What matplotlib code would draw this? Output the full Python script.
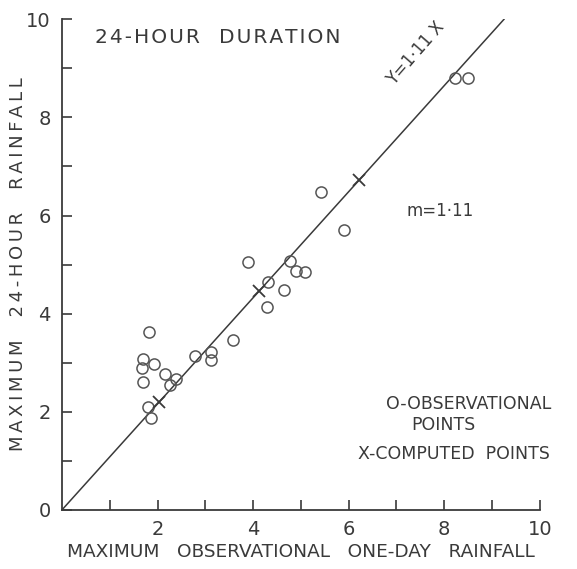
import numpy as np
import matplotlib.pyplot as plt

# observational points
obs_x = [1.82, 3.58, 1.69, 1.68, 1.92, 1.70, 2.15, 2.79, 3.11, 3.12, 2.38, 2.25, 1.79, 1.87,
         3.90, 4.78, 4.89, 5.09, 4.31, 4.64, 4.28, 5.43, 5.91, 8.22, 8.50]
obs_y = [3.63, 3.46, 3.07, 2.90, 2.98, 2.61, 2.76, 3.14, 3.21, 3.05, 2.66, 2.55, 2.09, 1.88,
         5.05, 5.07, 4.86, 4.85, 4.64, 4.49, 4.13, 6.49, 5.71, 8.80, 8.80]

# computed points (they lie on the drawn line)
comp_x = [2.04, 4.13, 6.22]
comp_y = [2.20, 4.46, 6.72]

# drawn line runs from the origin to the top of the frame
line_x = [0, 9.25]
line_y = [0, 10.0]

x_ticks = [2, 4, 6, 8, 10]
y_ticks = [0, 2, 4, 6, 8, 10]

ink = '#3a3a3a'
plt.rcParams['font.family'] = 'DejaVu Sans'


def spaced(s, gap='\u2009'):
    # the lettering on the original is widely spaced
    return gap.join(s)


fig = plt.figure(figsize=(5.77, 5.69), dpi=100)
ax = fig.add_axes([0.1075, 0.104, 0.828, 0.862])

ax.plot(line_x, line_y, color=ink, lw=1.1)

ax.plot(obs_x, obs_y, 'o', ms=8, mfc='none', mec='#555555', mew=1.1)
ax.plot(comp_x, comp_y, 'x', ms=8, color=ink, mew=1.3)

ax.set_xlim(0, 10)
ax.set_ylim(0, 10)
for s in ['top', 'right']:
    ax.spines[s].set_visible(False)
for s in ['left', 'bottom']:
    ax.spines[s].set_color(ink)
    ax.spines[s].set_linewidth(1.3)

ax.set_xticks(x_ticks)
ax.set_yticks(y_ticks)
ax.set_xticks([1, 3, 5, 7, 9], minor=True)
ax.set_yticks([1, 3, 5, 7, 9], minor=True)
ax.tick_params(which='both', direction='in', length=7, width=1.2, color=ink,
               labelcolor=ink, labelsize=14)
ax.tick_params(axis='x', pad=7)
ax.tick_params(axis='y', pad=8)

ax.set_xlabel('MAXIMUM   OBSERVATIONAL   ONE-DAY   RAINFALL', fontsize=13.3,
              color=ink, labelpad=3)
ax.set_ylabel(spaced('MAXIMUM') + '    ' + spaced('24-HOUR') + '    ' + spaced('RAINFALL'),
              fontsize=13, color=ink)
ax.yaxis.set_label_coords(-0.074, 0.50)

ax.text(0.70, 9.62, spaced('24-HOUR', '\u200a') + '   ' + spaced('DURATION', '\u200a'),
        fontsize=14.5, color=ink, va='center')
ax.text(7.40, 9.30, 'Y=1·11 X', fontsize=12, color=ink, rotation=49,
        ha='center', va='center', rotation_mode='anchor')
ax.text(7.20, 6.09, 'm=1·11', fontsize=12, color=ink, va='center')
ax.text(6.79, 2.16, 'O-OBSERVATIONAL', fontsize=12.5, color=ink, va='center')
ax.text(7.31, 1.72, 'POINTS', fontsize=12.5, color=ink, va='center')
ax.text(6.20, 1.14, 'X-COMPUTED  POINTS', fontsize=12.5, color=ink, va='center')

fig.savefig('out.png', dpi=100)
